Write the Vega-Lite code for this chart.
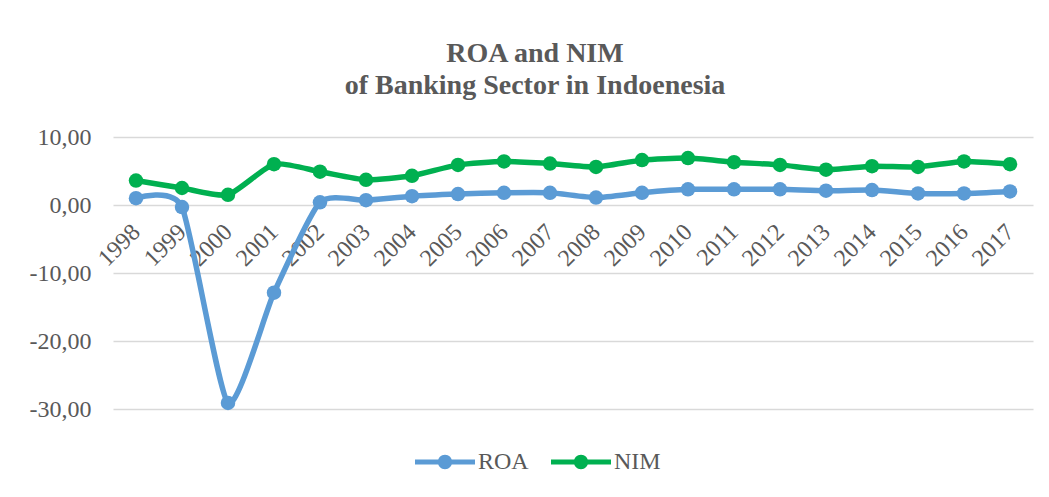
{
  "$schema": "https://vega.github.io/schema/vega-lite/v6.json",
  "autosize": "none",
  "width": 920,
  "height": 272,
  "padding": {"left": 113, "top": 137, "right": 16, "bottom": 88},
  "background": "white",
  "title": {
    "text": ["ROA and NIM", "of Banking Sector in Indoenesia"],
    "font": "'Liberation Serif', 'Times New Roman', serif",
    "fontSize": 28,
    "fontWeight": "bold",
    "color": "#595959",
    "anchor": "middle",
    "dx": -38,
    "offset": 25,
    "lineHeight": 32
  },
  "data": {
    "values": [
      {"year": "1998", "series": "ROA", "value": 1.0},
      {"year": "1999", "series": "ROA", "value": -0.3},
      {"year": "2000", "series": "ROA", "value": -29.1},
      {"year": "2001", "series": "ROA", "value": -12.9},
      {"year": "2002", "series": "ROA", "value": 0.4},
      {"year": "2003", "series": "ROA", "value": 0.7},
      {"year": "2004", "series": "ROA", "value": 1.3},
      {"year": "2005", "series": "ROA", "value": 1.6},
      {"year": "2006", "series": "ROA", "value": 1.8},
      {"year": "2007", "series": "ROA", "value": 1.8},
      {"year": "2008", "series": "ROA", "value": 1.1},
      {"year": "2009", "series": "ROA", "value": 1.8},
      {"year": "2010", "series": "ROA", "value": 2.3},
      {"year": "2011", "series": "ROA", "value": 2.3},
      {"year": "2012", "series": "ROA", "value": 2.3},
      {"year": "2013", "series": "ROA", "value": 2.1},
      {"year": "2014", "series": "ROA", "value": 2.2},
      {"year": "2015", "series": "ROA", "value": 1.7},
      {"year": "2016", "series": "ROA", "value": 1.7},
      {"year": "2017", "series": "ROA", "value": 2.0},
      {"year": "1998", "series": "NIM", "value": 3.6},
      {"year": "1999", "series": "NIM", "value": 2.5},
      {"year": "2000", "series": "NIM", "value": 1.5},
      {"year": "2001", "series": "NIM", "value": 6.0},
      {"year": "2002", "series": "NIM", "value": 4.9},
      {"year": "2003", "series": "NIM", "value": 3.7},
      {"year": "2004", "series": "NIM", "value": 4.3},
      {"year": "2005", "series": "NIM", "value": 5.9},
      {"year": "2006", "series": "NIM", "value": 6.4},
      {"year": "2007", "series": "NIM", "value": 6.1},
      {"year": "2008", "series": "NIM", "value": 5.6},
      {"year": "2009", "series": "NIM", "value": 6.6},
      {"year": "2010", "series": "NIM", "value": 6.9},
      {"year": "2011", "series": "NIM", "value": 6.3},
      {"year": "2012", "series": "NIM", "value": 5.9},
      {"year": "2013", "series": "NIM", "value": 5.2},
      {"year": "2014", "series": "NIM", "value": 5.7},
      {"year": "2015", "series": "NIM", "value": 5.6},
      {"year": "2016", "series": "NIM", "value": 6.4},
      {"year": "2017", "series": "NIM", "value": 6.0}
    ]
  },
  "encoding": {
    "x": {
      "field": "year",
      "type": "ordinal",
      "scale": {"type": "point", "padding": 0.5},
      "axis": {
        "title": null,
        "offset": -204,
        "domain": false,
        "ticks": false,
        "grid": false,
        "labelAngle": -45,
        "labelAlign": "right",
        "labelBaseline": "middle",
        "labelPadding": 23,
        "labelFont": "'Liberation Serif', 'Times New Roman', serif",
        "labelFontSize": 24,
        "labelColor": "#595959"
      }
    },
    "y": {
      "field": "value",
      "type": "quantitative",
      "scale": {"domain": [-30, 10], "nice": false, "zero": false},
      "axis": {
        "title": null,
        "values": [-30, -20, -10, 0, 10],
        "domain": false,
        "ticks": false,
        "labelPadding": 22,
        "labelFont": "'Liberation Serif', 'Times New Roman', serif",
        "labelFontSize": 24,
        "labelColor": "#595959",
        "labelExpr": "(datum.value < 0 ? '-' : '') + replace(format(abs(datum.value), '.2f'), '.', ',')",
        "gridColor": "#d9d9d9",
        "gridWidth": 1.5
      }
    },
    "color": {
      "field": "series",
      "type": "nominal",
      "scale": {"domain": ["ROA", "NIM"], "range": ["#5b9bd5", "#00b050"]},
      "legend": {
        "title": null,
        "orient": "none",
        "direction": "horizontal",
        "legendX": 302,
        "legendY": 295,
        "symbolType": "M-1,-0.085H1V0.085H-1Z M-0.24,0A0.24,0.24 0 1,1 0.24,0A0.24,0.24 0 1,1 -0.24,0Z",
        "symbolSize": 3600,
        "symbolStrokeWidth": 0,
        "symbolOpacity": 1,
        "labelFont": "'Liberation Serif', 'Times New Roman', serif",
        "labelFontSize": 24,
        "labelColor": "#595959",
        "labelOffset": 3,
        "columnPadding": 22
      }
    }
  },
  "layer": [
    {
      "mark": {"type": "line", "interpolate": "cardinal", "tension": 0.4, "strokeWidth": 5.5, "strokeCap": "round"}
    },
    {
      "mark": {"type": "point", "filled": true, "size": 210, "opacity": 1, "shape": "circle"}
    }
  ],
  "config": {
    "view": {"stroke": null}
  }
}
